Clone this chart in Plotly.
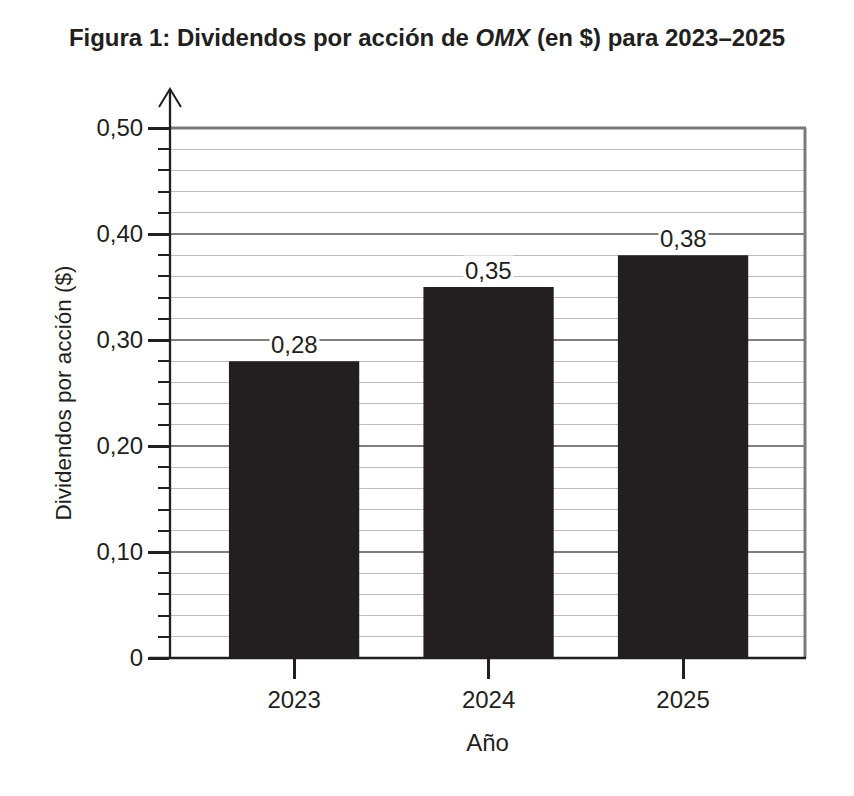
import plotly.graph_objects as go

years = ["2023", "2024", "2025"]
dividends = [0.28, 0.35, 0.38]
y_tickvals = [0, 0.10, 0.20, 0.30, 0.40, 0.50]
y_ticktext = ["0", "0,10", "0,20", "0,30", "0,40", "0,50"]

FONT = "Liberation Sans, Arial, sans-serif"
INK = "#231f20"

W, H = 854, 796
ml, mr, mt, mb = 170, 49, 128, 138
pw, ph = W - ml - mr, H - mt - mb

def px_x(dx):
    return dx / pw

def px_y(dy):
    return dy / ph

fig = go.Figure()
fig.add_trace(go.Bar(
    x=years, y=dividends,
    marker=dict(color=INK, line=dict(width=0)),
    width=0.67,
    hoverinfo="skip",
))

for i, v in enumerate(dividends):
    fig.add_annotation(
        x=i, y=v, xref="x", yref="y",
        text=f"{v:.2f}".replace(".", ","),
        showarrow=False, yanchor="middle", yshift=17,
        font=dict(family=FONT, size=24, color=INK),
        bgcolor="white", borderpad=1,
    )

shapes = [
    # top border
    dict(type="line", xref="paper", yref="paper", x0=0, x1=1 + px_x(1), y0=1, y1=1,
         line=dict(color="#7a7a7a", width=3)),
    # right border
    dict(type="line", xref="paper", yref="paper", x0=1, x1=1, y0=0, y1=1,
         line=dict(color="#7a7a7a", width=3)),
    # x axis line (extends left over major ticks)
    dict(type="line", xref="paper", yref="paper", x0=-px_x(21), x1=1 + px_x(1), y0=0, y1=0,
         line=dict(color=INK, width=2.7)),
    # y axis line with arrow
    dict(type="line", xref="paper", yref="paper", x0=0, x1=0, y0=-px_y(1), y1=1 + px_y(568 - 530),
         line=dict(color=INK, width=2.3)),
    dict(type="path", xref="paper", yref="paper",
         path=f"M {-px_x(11)},{1 + px_y(551 - 530)} L 0,{1 + px_y(569 - 530)} L {px_x(11)},{1 + px_y(551 - 530)}",
         line=dict(color=INK, width=2)),
]

fig.update_layout(
    width=W, height=H,
    margin=dict(l=ml, r=mr, t=mt, b=mb, pad=0),
    paper_bgcolor="white", plot_bgcolor="white",
    showlegend=False,
    shapes=shapes,
    title=dict(
        text="<b>Figura 1: Dividendos por acción de <i>OMX</i> (en $) para 2023–2025</b>",
        x=0.5, xref="container", xanchor="center",
        y=1 - 38 / H, yref="container", yanchor="middle",
        font=dict(family=FONT, size=24, color=INK),
    ),
    font=dict(family=FONT, size=24, color=INK),
    xaxis=dict(
        type="category",
        range=[-0.638, 2.627],
        showgrid=False, zeroline=False, showline=False,
        ticks="outside", ticklen=20, tickwidth=2.5, tickcolor=INK,
        tickfont=dict(family=FONT, size=24, color=INK),
        title=dict(text="Año", font=dict(family=FONT, size=24, color=INK), standoff=22),
        fixedrange=True,
    ),
    yaxis=dict(
        range=[0, 0.5],
        tickmode="array", tickvals=y_tickvals, ticktext=y_ticktext,
        showgrid=True, gridcolor="#7f7f7f", gridwidth=2,
        zeroline=False, showline=False,
        ticks="outside", ticklen=21, tickwidth=2.5, tickcolor=INK,
        tickfont=dict(family=FONT, size=24, color=INK),
        minor=dict(dtick=0.02, tick0=0, showgrid=True, gridcolor="#bcbcbc", gridwidth=1.2,
                   ticks="outside", ticklen=11, tickwidth=1.5, tickcolor=INK),
        title=dict(text="Dividendos por acción ($)", font=dict(family=FONT, size=22.5, color=INK), standoff=18),
        fixedrange=True,
    ),
)

fig.write_html("out.html")
